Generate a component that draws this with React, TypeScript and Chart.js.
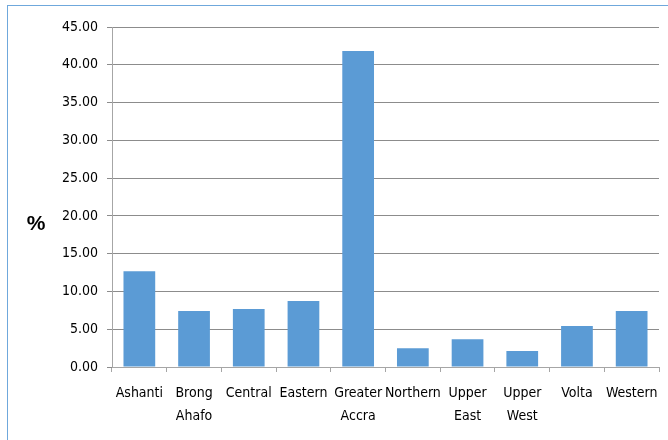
import React, { useEffect, useRef } from "react";
import { Chart, registerables } from "chart.js";

Chart.register(...registerables);

const regions: (string | string[])[] = [
  "Ashanti",
  ["Brong", "Ahafo"],
  "Central",
  "Eastern",
  ["Greater", "Accra"],
  "Northern",
  ["Upper", "East"],
  ["Upper", "West"],
  "Volta",
  "Western",
];

const shares: number[] = [12.66, 7.42, 7.68, 8.74, 41.82, 2.47, 3.67, 2.12, 5.42, 7.42];

const yMin = 0;
const yMax = 45;
const yStep = 5;

const FONT = "'Liberation Sans Narrow', 'DejaVu Sans Condensed', sans-serif";

// Frame around the chart and the unrotated unit label on the left.
const decorations = {
  id: "decorations",
  beforeDraw(chart: Chart) {
    const { ctx } = chart;
    ctx.save();
    ctx.fillStyle = "#ffffff";
    ctx.fillRect(0, 0, chart.width, chart.height);
    ctx.strokeStyle = "#6fa8dc";
    ctx.lineWidth = 1;
    ctx.strokeRect(7.5, 5.5, chart.width + 10, chart.height + 10);
    ctx.restore();
  },
  afterDraw(chart: Chart) {
    const { ctx } = chart;
    ctx.save();
    ctx.fillStyle = "#000000";
    ctx.font = "bold 21px 'Liberation Sans', sans-serif";
    ctx.textAlign = "center";
    ctx.textBaseline = "middle";
    ctx.fillText("%", 36, 224);
    ctx.restore();
  },
};

export default function App() {
  const canvasRef = useRef<HTMLCanvasElement | null>(null);

  useEffect(() => {
    if (!canvasRef.current) return;
    const chart = new Chart(canvasRef.current, {
      type: "bar",
      data: {
        labels: regions,
        datasets: [
          {
            data: shares,
            backgroundColor: "#5b9bd5",
            borderWidth: 0,
            barPercentage: 0.58,
            categoryPercentage: 1,
          },
        ],
      },
      plugins: [decorations],
      options: {
        animation: false,
        responsive: false,
        maintainAspectRatio: false,
        layout: { padding: { left: 0, right: 9, top: 27, bottom: 0 } },
        plugins: {
          legend: { display: false },
          tooltip: { enabled: false },
        },
        scales: {
          x: {
            grid: {
              offset: true,
              drawOnChartArea: false,
              drawTicks: true,
              tickLength: 5,
              color: "#a6a6a6",
            },
            border: { color: "#a6a6a6" },
            ticks: {
              color: "#000000",
              font: { family: FONT, size: 14, lineHeight: 1.62 },
              padding: 10,
              maxRotation: 0,
              autoSkip: false,
            },
            afterFit(scale: any) {
              scale.height = 73;
            },
          },
          y: {
            min: yMin,
            max: yMax,
            grid: {
              color: "#8c8c8c",
              tickLength: 5,
            },
            border: { color: "#a6a6a6" },
            ticks: {
              stepSize: yStep,
              color: "#000000",
              padding: 9,
              font: { family: FONT, size: 14 },
              callback: (v: any) => Number(v).toFixed(2),
            },
            afterFit(scale: any) {
              scale.width = 112;
            },
          },
        },
      },
    });
    return () => chart.destroy();
  }, []);

  return (
    <div style={{ position: "fixed", left: 0, top: 0, width: 668, height: 440 }}>
      <canvas ref={canvasRef} width={668} height={440} style={{ width: 668, height: 440 }} />
    </div>
  );
}
